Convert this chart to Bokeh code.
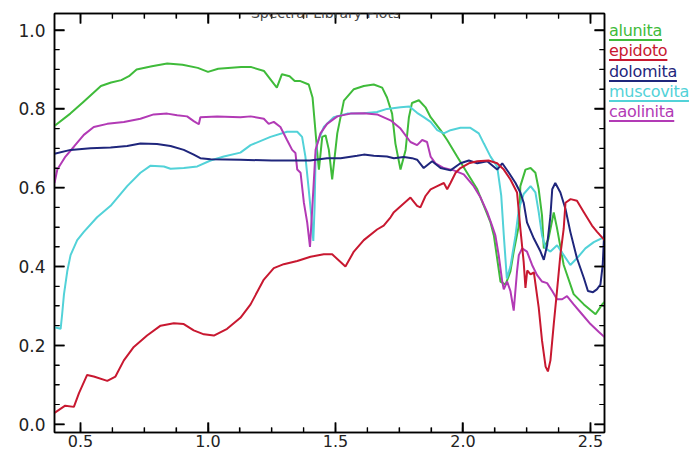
import numpy as np
from bokeh.plotting import figure
from bokeh.layouts import row
from bokeh.models import Range1d, LinearAxis, SingleIntervalTicker, PrintfTickFormatter, Label, Div
from bokeh.embed import file_html
from bokeh.resources import INLINE

# ---- data (wavelength in micrometres, reflectance) ----
alunita_x = [0.40, 0.46, 0.51, 0.58, 0.62, 0.66, 0.69, 0.72, 0.78, 0.84, 0.90, 0.96, 1.00, 1.04, 1.13, 1.17,
             1.22, 1.26, 1.27, 1.29, 1.32, 1.34, 1.36, 1.395, 1.41, 1.42, 1.43, 1.435, 1.448, 1.461, 1.474,
             1.487, 1.507, 1.533, 1.572, 1.611, 1.65, 1.683, 1.702, 1.722, 1.735, 1.755, 1.775, 1.788, 1.80,
             1.827, 1.853, 1.873, 1.912, 1.938, 1.977, 2.016, 2.056, 2.082, 2.108, 2.121, 2.147, 2.167, 2.186,
             2.199, 2.219, 2.225, 2.245, 2.265, 2.284, 2.297, 2.31, 2.317, 2.335, 2.356, 2.368, 2.395, 2.434,
             2.474, 2.52, 2.546, 2.555]
alunita_y = [0.758, 0.788, 0.817, 0.858, 0.867, 0.873, 0.883, 0.900, 0.908, 0.915, 0.912, 0.904, 0.894, 0.902,
             0.906, 0.906, 0.896, 0.862, 0.854, 0.888, 0.883, 0.871, 0.871, 0.862, 0.829, 0.754, 0.679, 0.646,
             0.729, 0.733, 0.696, 0.621, 0.738, 0.821, 0.850, 0.858, 0.862, 0.854, 0.829, 0.788, 0.712, 0.646,
             0.696, 0.779, 0.815, 0.822, 0.804, 0.779, 0.746, 0.721, 0.679, 0.638, 0.596, 0.554, 0.512, 0.479,
             0.362, 0.354, 0.388, 0.438, 0.504, 0.604, 0.646, 0.650, 0.638, 0.596, 0.529, 0.446, 0.470, 0.537,
             0.500, 0.404, 0.330, 0.304, 0.279, 0.304, 0.310]

epidoto_x = [0.398, 0.44, 0.474, 0.494, 0.526, 0.552, 0.605, 0.637, 0.67, 0.709, 0.761, 0.814, 0.866, 0.905,
             0.944, 0.984, 1.023, 1.075, 1.127, 1.167, 1.219, 1.258, 1.297, 1.35, 1.402, 1.454, 1.487, 1.539,
             1.572, 1.611, 1.663, 1.689, 1.716, 1.729, 1.794, 1.82, 1.833, 1.853, 1.873, 1.899, 1.925, 1.938,
             1.951, 1.971, 1.99, 2.023, 2.056, 2.10, 2.134, 2.16, 2.186, 2.212, 2.225, 2.238, 2.245, 2.252,
             2.265, 2.278, 2.297, 2.31, 2.324, 2.333, 2.343, 2.356, 2.369, 2.382, 2.395, 2.402, 2.422, 2.447,
             2.474, 2.506, 2.526, 2.555]
epidoto_y = [0.029, 0.047, 0.044, 0.079, 0.125, 0.121, 0.110, 0.121, 0.162, 0.196, 0.225, 0.250, 0.256, 0.254,
             0.238, 0.228, 0.225, 0.242, 0.270, 0.304, 0.367, 0.396, 0.406, 0.414, 0.425, 0.431, 0.431, 0.400,
             0.438, 0.467, 0.494, 0.504, 0.525, 0.538, 0.575, 0.554, 0.550, 0.579, 0.596, 0.604, 0.612, 0.596,
             0.612, 0.638, 0.650, 0.662, 0.667, 0.669, 0.662, 0.646, 0.621, 0.588, 0.496, 0.412, 0.346, 0.390,
             0.380, 0.385, 0.296, 0.212, 0.146, 0.134, 0.162, 0.254, 0.340, 0.430, 0.496, 0.562, 0.571, 0.567,
             0.538, 0.504, 0.488, 0.467]

dolomita_x = [0.398, 0.461, 0.539, 0.618, 0.683, 0.735, 0.80, 0.853, 0.905, 0.944, 0.97, 1.01, 1.127, 1.25,
              1.40, 1.467, 1.52, 1.585, 1.611, 1.65, 1.702, 1.729, 1.768, 1.80, 1.82, 1.846, 1.879, 1.912,
              1.951, 1.99, 2.023, 2.056, 2.095, 2.134, 2.154, 2.18, 2.206, 2.225, 2.238, 2.251, 2.278, 2.304,
              2.317, 2.33, 2.343, 2.35, 2.362, 2.382, 2.402, 2.421, 2.447, 2.474, 2.49, 2.51, 2.525, 2.539,
              2.548, 2.555]
dolomita_y = [0.686, 0.696, 0.700, 0.702, 0.706, 0.712, 0.711, 0.706, 0.696, 0.684, 0.675, 0.672, 0.671, 0.669,
              0.669, 0.675, 0.675, 0.681, 0.684, 0.681, 0.679, 0.675, 0.678, 0.675, 0.671, 0.650, 0.667, 0.650,
              0.644, 0.662, 0.669, 0.662, 0.667, 0.646, 0.662, 0.638, 0.612, 0.588, 0.562, 0.512, 0.471, 0.438,
              0.417, 0.454, 0.529, 0.596, 0.612, 0.588, 0.546, 0.488, 0.421, 0.371, 0.338, 0.335, 0.342, 0.354,
              0.404, 0.500]

muscovita_x = [0.398, 0.422, 0.428, 0.435, 0.448, 0.461, 0.487, 0.513, 0.565, 0.618, 0.683, 0.735, 0.775, 0.827,
               0.853, 0.905, 0.958, 1.01, 1.062, 1.127, 1.167, 1.245, 1.31, 1.35, 1.369, 1.382, 1.395, 1.405,
               1.413, 1.418, 1.422, 1.428, 1.454, 1.493, 1.546, 1.611, 1.663, 1.702, 1.755, 1.79, 1.82, 1.846,
               1.873, 1.899, 1.925, 1.951, 1.99, 2.029, 2.062, 2.082, 2.108, 2.134, 2.15, 2.16, 2.172, 2.186,
               2.206, 2.219, 2.238, 2.265, 2.284, 2.297, 2.31, 2.324, 2.343, 2.369, 2.395, 2.421, 2.447, 2.48,
               2.513, 2.555]
muscovita_y = [0.246, 0.242, 0.279, 0.329, 0.388, 0.429, 0.467, 0.488, 0.525, 0.554, 0.604, 0.638, 0.656, 0.654,
               0.648, 0.650, 0.654, 0.669, 0.679, 0.689, 0.708, 0.729, 0.742, 0.742, 0.729, 0.679, 0.596, 0.529,
               0.465, 0.550, 0.679, 0.712, 0.754, 0.779, 0.788, 0.789, 0.792, 0.800, 0.804, 0.806, 0.790, 0.779,
               0.767, 0.746, 0.738, 0.746, 0.752, 0.752, 0.738, 0.712, 0.679, 0.654, 0.580, 0.480, 0.370, 0.400,
               0.479, 0.546, 0.584, 0.604, 0.588, 0.538, 0.479, 0.446, 0.438, 0.454, 0.429, 0.404, 0.421, 0.446,
               0.462, 0.475]

caolinita_x = [0.398, 0.409, 0.441, 0.474, 0.513, 0.552, 0.605, 0.67, 0.735, 0.787, 0.84, 0.879, 0.918, 0.944,
               0.964, 0.97, 1.036, 1.127, 1.167, 1.219, 1.238, 1.258, 1.284, 1.31, 1.33, 1.343, 1.35, 1.363,
               1.376, 1.389, 1.40, 1.41, 1.422, 1.441, 1.467, 1.507, 1.559, 1.611, 1.663, 1.716, 1.755, 1.794,
               1.82, 1.84, 1.859, 1.873, 1.892, 1.925, 1.964, 2.003, 2.042, 2.069, 2.095, 2.114, 2.127, 2.14,
               2.154, 2.16, 2.173, 2.186, 2.199, 2.212, 2.219, 2.232, 2.251, 2.271, 2.29, 2.31, 2.33, 2.35,
               2.369, 2.389, 2.408, 2.434, 2.467, 2.50, 2.533, 2.555]
caolinita_y = [0.612, 0.646, 0.679, 0.704, 0.734, 0.754, 0.762, 0.767, 0.775, 0.786, 0.788, 0.784, 0.781, 0.769,
               0.761, 0.779, 0.781, 0.779, 0.781, 0.775, 0.762, 0.767, 0.754, 0.721, 0.696, 0.688, 0.646, 0.638,
               0.562, 0.512, 0.450, 0.560, 0.696, 0.738, 0.762, 0.781, 0.788, 0.789, 0.786, 0.771, 0.750, 0.716,
               0.708, 0.721, 0.716, 0.679, 0.662, 0.650, 0.644, 0.634, 0.604, 0.575, 0.538, 0.504, 0.479, 0.429,
               0.362, 0.342, 0.362, 0.338, 0.288, 0.388, 0.429, 0.446, 0.438, 0.404, 0.379, 0.362, 0.358, 0.338,
               0.317, 0.317, 0.325, 0.304, 0.279, 0.254, 0.234, 0.221]

series_names = ["alunita", "epidoto", "dolomita", "muscovita", "caolinita"]
series_colors = ["#3fbb3a", "#c81830", "#1f267c", "#52d2d8", "#b23ab5"]

title_text = "Spectral Library Plots"

X0, X1 = 0.398, 2.555
Y0, Y1 = -0.021, 1.042
x_major = [0.5, 1.0, 1.5, 2.0, 2.5]
x_minor = [0.625, 0.75, 0.875, 1.125, 1.25, 1.375, 1.625, 1.75, 1.875, 2.125, 2.25, 2.375]
y_major = [0.0, 0.2, 0.4, 0.6, 0.8, 1.0]
y_minor = [0.05, 0.1, 0.15, 0.25, 0.3, 0.35, 0.45, 0.5, 0.55, 0.65, 0.7, 0.75, 0.85, 0.9, 0.95]

H = 452
MAIN_W = 608
LEG_W = 83

# ---- main plot ----
p = figure(width=MAIN_W, height=H, output_backend="svg", toolbar_location=None,
           x_range=Range1d(X0, X1), y_range=Range1d(Y0, Y1),
           min_border_left=54, min_border_right=4, min_border_top=13, min_border_bottom=20)
p.xgrid.visible = False
p.ygrid.visible = False
p.outline_line_color = "black"
p.outline_line_width = 1.5
p.background_fill_color = "white"


def style_axis(ax, show_labels):
    ax.axis_line_color = "black"
    ax.axis_line_width = 1.5
    ax.major_tick_in = 10
    ax.major_tick_out = 0
    ax.minor_tick_in = 5
    ax.minor_tick_out = 0
    ax.major_tick_line_color = "black"
    ax.minor_tick_line_color = "black"
    ax.major_tick_line_width = 1.5
    ax.minor_tick_line_width = 1.2
    ax.formatter = PrintfTickFormatter(format="%.1f")
    if show_labels:
        ax.major_label_text_font = "DejaVu Sans"
        ax.major_label_text_font_size = "17px"
        ax.major_label_text_color = "#222222"
    else:
        ax.major_label_text_font_size = "1px"
        ax.major_label_text_color = None
        ax.major_label_standoff = 0


p.xaxis.ticker = SingleIntervalTicker(interval=0.5, num_minor_ticks=4)
p.yaxis.ticker = SingleIntervalTicker(interval=0.2, num_minor_ticks=4)
for ax in p.xaxis:
    style_axis(ax, True)
    ax.major_label_text_font_size = "16px"
    ax.major_label_standoff = 2
for ax in p.yaxis:
    style_axis(ax, True)
    ax.major_label_standoff = 9

top_ax = LinearAxis(ticker=SingleIntervalTicker(interval=0.5, num_minor_ticks=4))
style_axis(top_ax, False)
p.add_layout(top_ax, "above")
right_ax = LinearAxis(ticker=SingleIntervalTicker(interval=0.2, num_minor_ticks=4))
style_axis(right_ax, False)
p.add_layout(right_ax, "right")

# inward tick marks on all four sides, drawn as NaN-separated line paths
px_per_x = 550 / (X1 - X0)
px_per_y = 419 / (Y1 - Y0)
nan = float("nan")


def tick_path(vals, ln, vertical):
    tx, ty = [], []
    for v in vals:
        if vertical:
            d = ln / px_per_y
            tx += [v, v, nan, v, v, nan]
            ty += [Y0, Y0 + d, nan, Y1, Y1 - d, nan]
        else:
            d = ln / px_per_x
            tx += [X0, X0 + d, nan, X1, X1 - d, nan]
            ty += [v, v, nan, v, v, nan]
    return tx, ty


for vals, ln, lw, vert in [(x_major, 10, 1.5, True), (x_minor, 5, 1.2, True),
                           (y_major, 10, 1.5, False), (y_minor, 5, 1.2, False)]:
    tx, ty = tick_path(vals, ln, vert)
    p.line(tx, ty, line_color="black", line_width=lw)

xs = [alunita_x, epidoto_x, dolomita_x, muscovita_x, caolinita_x]
ys = [alunita_y, epidoto_y, dolomita_y, muscovita_y, caolinita_y]
for i in [0, 3, 4, 2, 1]:
    p.line(xs[i], ys[i], line_color=series_colors[i], line_width=2)

# title just above the top axis
p.add_layout(Label(x=1.461, y=1.0445, text=title_text, text_align="center", text_baseline="alphabetic",
                   text_font="DejaVu Sans", text_font_size="14px", text_color="#444444"))

# ---- legend: coloured, underlined names (HTML) ----
leg_top = [23.0, 43.3, 63.6, 84.0, 104.2]
items = "".join(
    f'<div style="position:absolute;left:1px;top:{t}px;color:{c};text-decoration:underline;'
    f'text-decoration-color:{c};text-decoration-thickness:1.5px;text-underline-offset:3px;'
    f'letter-spacing:-0.3px;white-space:nowrap;">{n}</div>'
    for n, c, t in zip(series_names, series_colors, leg_top))
legend_html = ('<div style="position:relative;width:%dpx;height:%dpx;overflow:hidden;'
               "font-family:'DejaVu Sans';font-size:16px;line-height:16px;\">%s</div>" % (LEG_W, H, items))
leg = Div(text=legend_html, width=LEG_W, height=H, styles={"margin": "0", "padding": "0"})

layout = row(p, leg)
open("out.html", "w").write(file_html(layout, INLINE))
